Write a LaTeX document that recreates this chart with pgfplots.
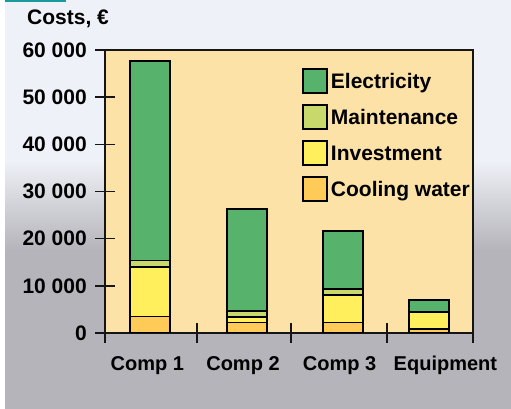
\documentclass[border=0pt]{standalone}
\usepackage{fontspec}
\setmainfont{Liberation Sans}
\usepackage{pgfplots}
\pgfplotsset{compat=1.18}

\definecolor{bglight}{HTML}{EEF1F7}
\definecolor{bggrey}{HTML}{B5B4BA}
\definecolor{accent}{HTML}{1A9A9E}
\definecolor{panel}{HTML}{FCE2A6}
\definecolor{elec}{HTML}{57B26B}
\definecolor{maint}{HTML}{C8D86B}
\definecolor{invest}{HTML}{FFEF5D}
\definecolor{cool}{HTML}{FECB58}
\definecolor{ink}{HTML}{151515}

% page background: light at the top, fading to grey lower down
\pgfdeclareverticalshading{pagebg}{100bp}{%
  color(0bp)=(bggrey); color(44.4bp)=(bggrey);
  color(55.4bp)=(bglight); color(100bp)=(bglight)}

\newcommand\bigbf{\bfseries\fontsize{21}{25}\selectfont}
\newcommand\midbf{\bfseries\fontsize{20}{24}\selectfont}

\begin{document}
\begin{tikzpicture}[font=\bigbf]
\path[use as bounding box] (0,0) rectangle (511pt,409pt);
\fill[white] (0,0) rectangle (511pt,409pt);
\shade[shading=pagebg] (5pt,0) rectangle (511pt,409pt);
\fill[accent] (5pt,407pt) rectangle (66pt,409pt);

\node[anchor=base west, inner sep=0pt] at (27pt,384pt) {Costs, €};

\begin{axis}[
  at={(105pt,76pt)}, anchor=south west,
  scale only axis, width=368pt, height=283pt,
  xmin=-0.5, xmax=3.5, ymin=0, ymax=60000,
  axis background/.style={fill=panel},
  axis line style={ink, line width=1.5pt},
  ybar stacked, bar width=40pt,
  every axis plot/.append style={draw=black, line width=1.6pt},
  scaled y ticks=false,
  xtick pos=bottom, ytick pos=left,
  ytick={0,10000,20000,30000,40000,50000,60000},
  yticklabel={\bigbf\pgfmathprintnumber[fixed, precision=0, 1000 sep={\ }, assume math mode=true]{\tick}},
  y tick style={ink, line width=1.6pt},
  ytick align=center, major tick length=20pt,
  yticklabel style={anchor=east, inner sep=0pt, xshift=-8pt},
  xtick={-0.04,1.0,2.05,3.2},
  xticklabels={Comp 1,Comp 2,Comp 3,Equipment},
  x tick style={draw=none},
  xticklabel style={font=\midbf, anchor=base, inner sep=0pt, yshift=-38pt},
  extra x ticks={-0.5,0.5,1.52,2.565,3.5},
  extra x tick labels={},
  extra x tick style={xtick align=center, major tick length=20pt,
    x tick style={draw=ink, line width=1.6pt}},
  reverse legend,
  legend image code/.code={\draw[#1, draw=black, line width=1.5pt] (0pt,-12pt) rectangle (24pt,12pt);},
  legend style={draw=none, fill=none, at={(0.536,0.936)}, anchor=north west,
    inner sep=0pt, row sep=10.5pt, column sep=3pt,
    nodes={font=\bigbf, inner sep=0pt, text height=20.3pt, text depth=5.2pt}},
  legend cell align=left,
]
\addplot[fill=cool] coordinates {(-0.011,3500) (1.043,2200) (2.084,2200) (3.02,900)};
\addplot[fill=invest] coordinates {(-0.011,10550) (1.043,1200) (2.084,5900) (3.02,3550)};
\addplot[fill=maint] coordinates {(-0.011,1280) (1.043,1300) (2.084,1200) (3.02,0)};
\addplot[fill=elec] coordinates {(-0.011,42300) (1.043,21550) (2.084,12300) (3.02,2550)};
\legend{Cooling water,Investment,Maintenance,Electricity}
\end{axis}
\end{tikzpicture}
\end{document}
